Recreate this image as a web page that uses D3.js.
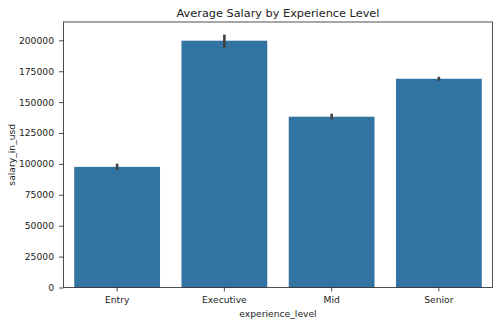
<!DOCTYPE html>
<html>
<head>
<meta charset="utf-8">
<script src="https://cdn.jsdelivr.net/npm/d3@7"></script>
<style>
  html, body { margin: 0; padding: 0; background: #fff; }
  svg { display: block; font-family: "DejaVu Sans", sans-serif; }
</style>
</head>
<body>
<svg id="chart" width="500" height="325"></svg>
<script>
const categories = ["Entry", "Executive", "Mid", "Senior"];
const meanSalary = [97600, 199700, 138200, 168900];
const ciLow = [95000, 194100, 136000, 167300];
const ciHigh = [100200, 204600, 140600, 170500];
const yTicks = [0, 25000, 50000, 75000, 100000, 125000, 150000, 175000, 200000];

const svg = d3.select("#chart");
const m = { left: 63.5, right: 7.5, top: 22, bottom: 37.5 };
const W = 500, H = 325;
const x = d3.scaleBand().domain(categories).range([m.left, W - m.right]).paddingInner(0.2).paddingOuter(0.1);
const y = d3.scaleLinear().domain([0, d3.max(ciHigh) * 1.05]).range([H - m.bottom, m.top]);

const g = svg.append("g");
g.selectAll("rect.bar").data(categories).join("rect")
  .attr("class", "bar")
  .attr("x", d => x(d))
  .attr("width", x.bandwidth())
  .attr("y", (d, i) => y(meanSalary[i]))
  .attr("height", (d, i) => y(0) - y(meanSalary[i]))
  .attr("fill", "#3274a1");

g.selectAll("line.err").data(categories).join("line")
  .attr("class", "err")
  .attr("x1", d => x(d) + x.bandwidth() / 2)
  .attr("x2", d => x(d) + x.bandwidth() / 2)
  .attr("y1", (d, i) => y(ciLow[i]))
  .attr("y2", (d, i) => y(ciHigh[i]))
  .attr("stroke", "#424242")
  .attr("stroke-width", 2.6);

const yAxis = d3.axisLeft(y).tickValues(yTicks).tickFormat(d3.format("d")).tickSize(4.5).tickPadding(5);
const yg = svg.append("g").attr("transform", `translate(${m.left},0)`).call(yAxis);
const xAxis = d3.axisBottom(x).tickSize(4).tickPadding(5);
const xg = svg.append("g").attr("transform", `translate(0,${H - m.bottom})`).call(xAxis);
[yg, xg].forEach(a => {
  a.select(".domain").remove();
  a.selectAll("line").attr("stroke", "#222").attr("stroke-width", 0.8);
  a.selectAll("text").attr("fill", "#222").style("font-size", "9.2px").style("font-family", "DejaVu Sans");
});

svg.append("rect")
  .attr("x", m.left).attr("y", m.top)
  .attr("width", W - m.left - m.right).attr("height", H - m.top - m.bottom)
  .attr("fill", "none").attr("stroke", "#222").attr("stroke-width", 0.8);

svg.append("text").attr("x", (m.left + W - m.right) / 2).attr("y", 17)
  .attr("text-anchor", "middle").style("font-size", "11.3px").attr("fill", "#222")
  .text("Average Salary by Experience Level");
svg.append("text").attr("x", (m.left + W - m.right) / 2).attr("y", 317)
  .attr("text-anchor", "middle").style("font-size", "9.2px").attr("fill", "#222")
  .text("experience_level");
svg.append("text").attr("transform", `translate(15,${(m.top + H - m.bottom) / 2}) rotate(-90)`)
  .attr("text-anchor", "middle").style("font-size", "9.2px").attr("fill", "#222")
  .text("salary_in_usd");
</script>
</body>
</html>
